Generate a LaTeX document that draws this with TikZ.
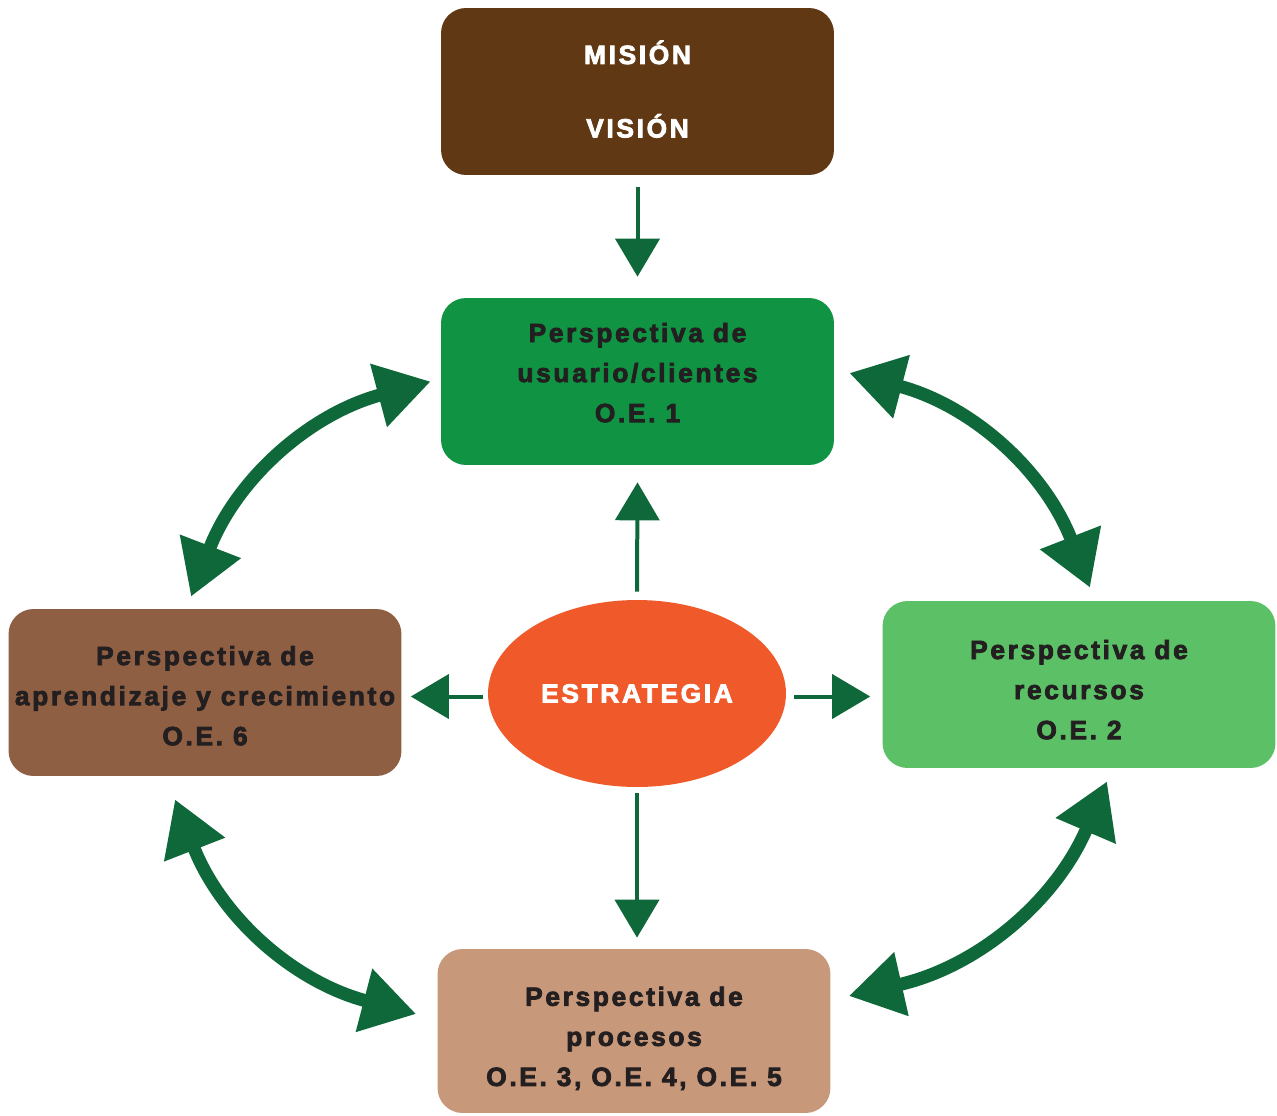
\documentclass[tikz,border=0pt]{standalone}
\usepackage{fontspec}
\setmainfont[LetterSpace=10,BoldFeatures={FakeBold=3}]{Liberation Sans}
\usetikzlibrary{arrows.meta,positioning,shapes.geometric}
\definecolor{misionbrown}{HTML}{603813}
\definecolor{usuariogreen}{HTML}{109444}
\definecolor{recursosgreen}{HTML}{5BC066}
\definecolor{aprendbrown}{HTML}{8F5F44}
\definecolor{procesostan}{HTML}{C8987A}
\definecolor{estrategiaorange}{HTML}{F05A2A}
\definecolor{arrowgreen}{HTML}{0F6839}
\definecolor{ink}{HTML}{231F20}

\begin{document}
\begin{tikzpicture}[
  x=0.02cm,y=0.02cm,
  font=\bfseries\fontsize{15}{22.8}\selectfont,
  card/.style={rounded corners=0.5cm,align=center,text=ink,inner sep=2pt,
    minimum width=7.86cm,minimum height=3.34cm},
  link/.style={-{Triangle[length=0.76cm,width=0.88cm]},line width=0.08cm,draw=arrowgreen},
  roundtrip/.style={{Triangle[length=1.08cm,width=1.24cm]}-{Triangle[length=1.08cm,width=1.24cm]},
    line width=0.26cm,draw=arrowgreen}
]
  \useasboundingbox (0,0) rectangle (1277,-1115);

  \node[card,fill=misionbrown,text=white,text depth=2.8pt] (mision) at (637.5,-91.5) {MISIÓN\\[19pt]VISIÓN};
  \node[card,fill=usuariogreen,text depth=10.2pt] (usuario) at (637.5,-381.5)
    {Perspectiva de\\usuario/clientes\\O.E. 1};
  \node[card,fill=recursosgreen,text height=62.2pt,text depth=0pt] (recursos) at (1079,-684.5)
    {Perspectiva de\\recursos\\O.E. 2};
  \node[card,fill=aprendbrown,text height=60pt,text depth=0pt] (aprendizaje) at (205,-692.5)
    {Perspectiva de\\aprendizaje y crecimiento\\O.E. 6};
  \node[card,fill=procesostan,minimum height=3.28cm,text height=62.5pt,text depth=0pt] (procesos) at (634,-1031)
    {Perspectiva de\\procesos\\O.E. 3, O.E. 4, O.E. 5};
  \node[ellipse,fill=estrategiaorange,text=white,inner sep=0pt,
    minimum width=5.96cm,minimum height=3.74cm] (estrategia) at (637,-693.5) {ESTRATEGIA};

  \draw[link] ([shift={(0,-12)}]mision.south) -- ([shift={(0,21)}]usuario.north);
  \draw[link] ([shift={(0,8)}]estrategia.north) -- ([shift={(0,-17)}]usuario.south);
  \draw[link,shorten >=0.22cm] ([shift={(0,-6)}]estrategia.south) -- (estrategia.south |- procesos.north);
  \draw[link] ([shift={(-5,-3)}]estrategia.west) -- ([shift={(9,-4)}]aprendizaje.east);
  \draw[link,shorten >=0.24cm] ([shift={(8,-3)}]estrategia.east) -- ([shift={(0,-3)}]estrategia.east -| recursos.west);

  \draw[roundtrip] ([shift={(-14,12)}]aprendizaje.north) to[bend left=27] ([shift={(-10,0)}]usuario.west);
  \draw[roundtrip] ([shift={(15,8.5)}]usuario.east) to[bend left=27] ([shift={(11,13)}]recursos.north);
  \draw[roundtrip] ([shift={(28,-13)}]recursos.south) to[bend left=27] ([shift={(18,35)}]procesos.east);
  \draw[roundtrip] ([shift={(-21,17)}]procesos.west) to[bend left=27] ([shift={(-30,-23)}]aprendizaje.south);
\end{tikzpicture}
\end{document}
